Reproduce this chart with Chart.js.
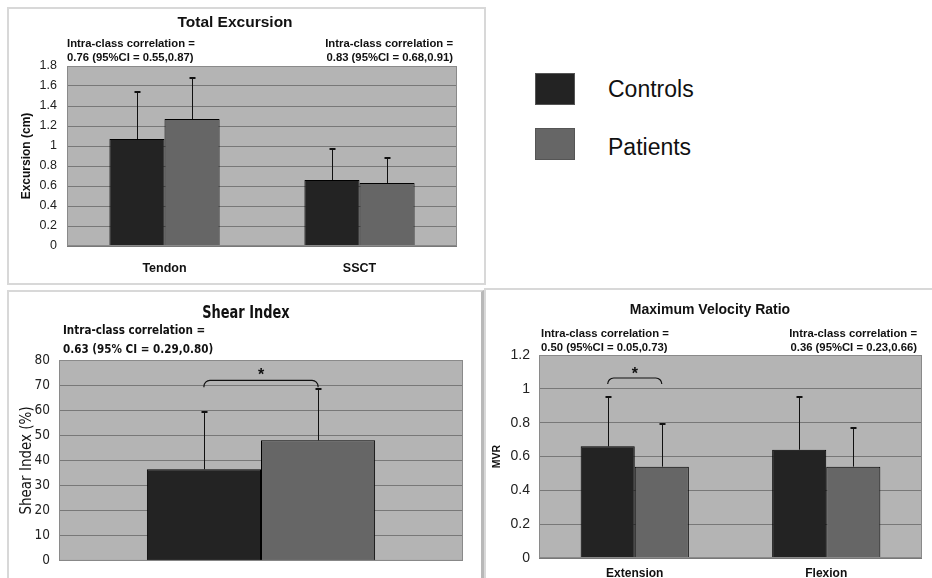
<!DOCTYPE html>
<html>
<head>
<meta charset="utf-8">
<script src="https://cdn.jsdelivr.net/npm/chart.js@4.4.0/dist/chart.umd.min.js"></script>
<style>
  body { margin: 0; width: 932px; height: 578px; background: #fff; position: relative; overflow: hidden;
         font-family: 'Liberation Sans', Arial, sans-serif; }
  .frame { position: absolute; box-sizing: border-box; }
  #f1 { left: 7px; top: 7px; width: 479px; height: 278px; border: 2px solid #d8d8d8; }
  #f2 { left: 7px; top: 290px; width: 477px; height: 300px; border: 2px solid #d8d8d8; border-right: 3px solid #b8b8b8; }
  #f3 { left: 484px; top: 288px; width: 460px; height: 300px; border-left: 2px solid #d8d8d8; border-top: 2px solid #d8d8d8; }
  canvas { position: absolute; }
  .key { position: absolute; left: 535px; width: 40px; height: 32px; box-sizing: border-box; border: 1px solid #555; }
  .keytext { position: absolute; left: 608px; font-size: 23px; color: #111; line-height: 26px; }
</style>
</head>
<body>
<div class="frame" id="f1"></div>
<div class="frame" id="f2"></div>
<div class="frame" id="f3"></div>
<canvas id="c1" width="476" height="275" style="left:8px;top:8px"></canvas>
<canvas id="c2" width="474" height="287" style="left:8px;top:291px"></canvas>
<canvas id="c3" width="446" height="289" style="left:486px;top:289px"></canvas>
<div class="key" style="top:73px;background:#232323"></div>
<div class="key" style="top:128px;background:#666666"></div>
<div class="keytext" style="top:76px">Controls</div>
<div class="keytext" style="top:134px">Patients</div>
<script>
// Total Excursion
const excursionLabels = ['Tendon', 'SSCT'];
const excursionControls = [1.07, 0.66];
const excursionPatients = [1.27, 0.63];
const excursionControlsErr = [0.48, 0.32];
const excursionPatientsErr = [0.42, 0.26];

// Shear Index
const shearLabels = [''];
const shearControls = [36.5];
const shearPatients = [48.0];
const shearControlsErr = [23.2];
const shearPatientsErr = [20.7];

// Maximum Velocity Ratio
const mvrLabels = ['Extension', 'Flexion'];
const mvrControls = [0.66, 0.64];
const mvrPatients = [0.54, 0.54];
const mvrControlsErr = [0.30, 0.32];
const mvrPatientsErr = [0.26, 0.235];

const seriesNames = ['Controls', 'Patients'];
const seriesColors = ['#232323', '#666666'];

const SANS = "'Liberation Sans', Arial, sans-serif";
const NARROW = "'Liberation Sans Narrow', 'Arial Narrow', 'DejaVu Sans Condensed', sans-serif";

// grey plot area with a thin frame, Excel style
const plotFrame = {
  id: 'plotFrame',
  beforeDraw(chart) {
    const {ctx, chartArea: a} = chart;
    ctx.save();
    ctx.fillStyle = '#b4b4b4';
    ctx.fillRect(a.left, a.top, a.right - a.left, a.bottom - a.top);
    ctx.restore();
  },
  afterDraw(chart) {
    const {ctx, chartArea: a} = chart;
    ctx.save();
    ctx.strokeStyle = '#8a8a8a';
    ctx.lineWidth = 1;
    ctx.strokeRect(a.left + 0.5, a.top + 0.5, a.right - a.left - 1, a.bottom - a.top - 1);
    ctx.restore();
  }
};

// upper error bars (mean + SD)
const errorBars = {
  id: 'errorBars',
  afterDatasetsDraw(chart) {
    const {ctx} = chart;
    const y = chart.scales.y;
    ctx.save();
    ctx.strokeStyle = '#111';
    ctx.lineWidth = 1;
    chart.data.datasets.forEach((ds, i) => {
      chart.getDatasetMeta(i).data.forEach((bar, j) => {
        const top = Math.round(y.getPixelForValue(ds.data[j] + ds.errors[j]));
        const x = Math.round(bar.x) + 0.5;
        ctx.beginPath();
        ctx.moveTo(x, bar.y);
        ctx.lineTo(x, top);
        ctx.stroke();
        ctx.lineWidth = 2;
        ctx.beginPath();
        ctx.moveTo(x - 3, top + 1);
        ctx.lineTo(x + 3, top + 1);
        ctx.stroke();
        ctx.lineWidth = 1;
      });
    });
    ctx.restore();
  }
};

// significance bracket with a star
const bracket = {
  id: 'bracket',
  afterDatasetsDraw(chart, args, opts) {
    if (!opts.show) return;
    const {ctx} = chart;
    const y = chart.scales.y;
    const x0 = chart.getDatasetMeta(0).data[opts.index].x;
    const x1 = chart.getDatasetMeta(1).data[opts.index].x;
    const yt = y.getPixelForValue(opts.level);
    const yb = yt + opts.drop;
    const r = 6;
    ctx.save();
    ctx.strokeStyle = '#111';
    ctx.lineWidth = 1.2;
    ctx.beginPath();
    ctx.moveTo(x0, yb);
    ctx.arcTo(x0, yt, x0 + r, yt, r);
    ctx.arcTo(x1, yt, x1, yt + r, r);
    ctx.lineTo(x1, yb);
    ctx.stroke();
    ctx.fillStyle = '#111';
    ctx.font = 'bold 16px ' + SANS;
    ctx.textAlign = 'center';
    ctx.textBaseline = 'alphabetic';
    ctx.fillText('*', (x0 + x1) / 2, y.getPixelForValue(opts.star) + 9);
    ctx.restore();
  }
};

// titles and intra-class correlation notes (sx squeezes narrow text)
const panelText = {
  id: 'panelText',
  afterDraw(chart, args, opts) {
    const {ctx} = chart;
    opts.items.forEach(t => {
      ctx.save();
      ctx.fillStyle = '#111';
      ctx.textBaseline = 'middle';
      ctx.font = t.font;
      ctx.textAlign = t.align;
      ctx.translate(t.x, t.y);
      ctx.scale(t.sx || 1, 1);
      ctx.fillText(t.text, 0, 0);
      ctx.restore();
    });
  }
};

function makeChart(id, labels, controls, patients, cErr, pErr, cfg) {
  return new Chart(document.getElementById(id), {
    type: 'bar',
    data: {
      labels: labels,
      datasets: [{
        label: seriesNames[0],
        data: controls,
        errors: cErr,
        backgroundColor: seriesColors[0],
        borderColor: '#000',
        borderWidth: 1
      }, {
        label: seriesNames[1],
        data: patients,
        errors: pErr,
        backgroundColor: seriesColors[1],
        borderColor: '#000',
        borderWidth: 1
      }]
    },
    options: {
      responsive: false,
      animation: false,
      layout: { padding: { top: cfg.top, right: cfg.right, left: 0, bottom: 0 } },
      datasets: { bar: { barPercentage: 1, categoryPercentage: 0.565 } },
      plugins: {
        legend: { display: false },
        tooltip: { enabled: false },
        bracket: cfg.bracket,
        panelText: { items: cfg.texts }
      },
      scales: {
        x: {
          grid: { display: false },
          border: { display: false },
          ticks: { display: cfg.xTicks, padding: cfg.xPad, color: '#111', font: cfg.xFont },
          afterFit(scale) { scale.height = cfg.xHeight; }
        },
        y: {
          min: 0,
          max: cfg.max,
          ticks: { stepSize: cfg.step, padding: cfg.yPad, color: '#222', font: cfg.yFont,
                   callback: v => String(Math.round(v * 100) / 100) },
          grid: { color: '#787878', lineWidth: 1, drawTicks: false },
          border: { display: false },
          title: { display: true, text: cfg.yTitle, color: '#111', font: cfg.yTitleFont,
                   padding: { top: cfg.yTitlePad, bottom: 0 } },
          afterFit(scale) { scale.width = cfg.yWidth; }
        }
      }
    },
    plugins: [plotFrame, errorBars, bracket, panelText]
  });
}

const noteFont = 'bold 11.3px ' + SANS;

makeChart('c1', excursionLabels, excursionControls, excursionPatients, excursionControlsErr, excursionPatientsErr, {
  top: 58, right: 27, yWidth: 59, xHeight: 37, max: 1.8, step: 0.2,
  xTicks: true, xPad: 7, xFont: { family: SANS, size: 12.5, weight: 'bold' },
  yPad: 10, yFont: { family: SANS, size: 12.5 },
  yTitle: 'Excursion (cm)', yTitleFont: { family: SANS, size: 12, weight: 'bold' }, yTitlePad: 11,
  bracket: { show: false },
  texts: [
    { text: 'Total Excursion', x: 227, y: 15, align: 'center', font: 'bold 15.5px ' + SANS },
    { text: 'Intra-class correlation =', x: 59, y: 36, align: 'left', font: noteFont },
    { text: '0.76 (95%CI = 0.55,0.87)', x: 59, y: 50, align: 'left', font: noteFont },
    { text: 'Intra-class correlation =', x: 445, y: 36, align: 'right', font: noteFont },
    { text: '0.83 (95%CI = 0.68,0.91)', x: 445, y: 50, align: 'right', font: noteFont }
  ]
});

makeChart('c2', shearLabels, shearControls, shearPatients, shearControlsErr, shearPatientsErr, {
  top: 69, right: 19, yWidth: 51, xHeight: 14, max: 80, step: 10,
  xTicks: false, xPad: 0, xFont: { family: SANS, size: 12 },
  yPad: 9, yFont: { family: NARROW, size: 13.5 },
  yTitle: 'Shear Index (%)', yTitleFont: { family: NARROW, size: 15 }, yTitlePad: 10,
  bracket: { show: true, index: 0, level: 71.9, drop: 7, star: 75.7 },
  texts: [
    { text: 'Shear Index', x: 238, y: 22, align: 'center', font: 'bold 18px ' + NARROW, sx: 0.8 },
    { text: 'Intra-class correlation =', x: 55, y: 40, align: 'left', font: 'bold 13px ' + NARROW, sx: 0.89 },
    { text: '0.63 (95% CI = 0.29,0.80)', x: 55, y: 59, align: 'left', font: 'bold 13px ' + NARROW, sx: 0.89 }
  ]
});

makeChart('c3', mvrLabels, mvrControls, mvrPatients, mvrControlsErr, mvrPatientsErr, {
  top: 66, right: 10, yWidth: 53, xHeight: 20, max: 1.2, step: 0.2,
  xTicks: true, xPad: 0, xFont: { family: SANS, size: 12, weight: 'bold' },
  yPad: 9, yFont: { family: SANS, size: 14 },
  yTitle: 'MVR', yTitleFont: { family: SANS, size: 10.5, weight: 'bold' }, yTitlePad: 5,
  bracket: { show: true, index: 0, level: 1.064, drop: 6, star: 1.11 },
  texts: [
    { text: 'Maximum Velocity Ratio', x: 224, y: 21, align: 'center', font: 'bold 14px ' + SANS },
    { text: 'Intra-class correlation =', x: 55, y: 45, align: 'left', font: noteFont },
    { text: '0.50 (95%CI = 0.05,0.73)', x: 55, y: 59, align: 'left', font: noteFont },
    { text: 'Intra-class correlation =', x: 431, y: 45, align: 'right', font: noteFont },
    { text: '0.36 (95%CI = 0.23,0.66)', x: 431, y: 59, align: 'right', font: noteFont }
  ]
});
</script>
</body>
</html>
